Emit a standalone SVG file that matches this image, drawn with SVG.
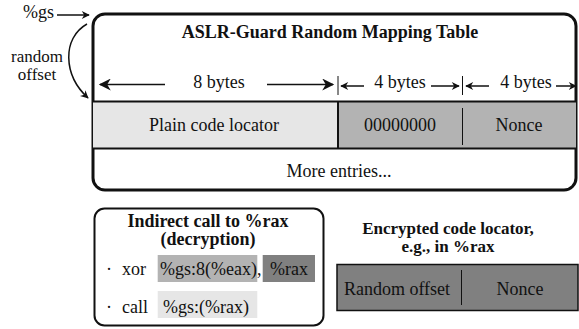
<svg xmlns="http://www.w3.org/2000/svg" width="579" height="329" viewBox="0 0 579 329">
<defs>
<style>
.t{font-family:"Liberation Serif","Times New Roman",serif;font-size:18px;fill:#111}
.b{font-weight:bold}
.s{font-size:17px}
.m{text-anchor:middle}
.ln{stroke:#111;fill:none;stroke-width:1.5}
</style>
<marker id="ah" viewBox="0 0 10 10" refX="9" refY="5" markerWidth="10" markerHeight="8" markerUnits="userSpaceOnUse" orient="auto">
<path d="M0,0 L10,5 L0,10 L3,5 Z" fill="#111"/>
</marker>
<marker id="ahb" viewBox="0 0 10 10" refX="9" refY="5" markerWidth="18" markerHeight="12" markerUnits="userSpaceOnUse" orient="auto">
<path d="M0,0 L10,5 L0,10 L3,5 Z" fill="#111"/>
</marker>
</defs>
<rect width="579" height="329" fill="#fff"/>
<g id="table">
<rect x="93" y="14" width="483" height="176" rx="12" fill="#fff" stroke="#111" stroke-width="3"/>
<rect x="93" y="101.5" width="245" height="47" fill="#e6e6e6"/>
<rect x="338" y="101.5" width="238" height="47" fill="#b3b3b3"/>
<line x1="93" y1="101.5" x2="576" y2="101.5" stroke="#111" stroke-width="2"/>
<line x1="93" y1="148.5" x2="576" y2="148.5" stroke="#111" stroke-width="2"/>
<line x1="338" y1="101.5" x2="338" y2="148.5" stroke="#111" stroke-width="2"/>
<line x1="462.5" y1="108" x2="462.5" y2="145" stroke="#111" stroke-width="1"/>
<text class="t b m" x="330" y="37.5">ASLR-Guard Random Mapping Table</text>
<text class="t m" x="219" y="88">8 bytes</text>
<text class="t m" x="400" y="88">4 bytes</text>
<text class="t m" x="526" y="88">4 bytes</text>
<text class="t m" x="214" y="131">Plain code locator</text>
<text class="t m" x="400" y="131">00000000</text>
<text class="t m" x="519" y="131">Nonce</text>
<text class="t m" x="339" y="177">More entries...</text>
</g>
<g id="connectors">
<line class="ln" x1="165" y1="84.5" x2="100" y2="84.5" marker-end="url(#ahb)"/>
<line class="ln" x1="267" y1="84.5" x2="333" y2="84.5" marker-end="url(#ahb)"/>
<line x1="338" y1="76" x2="338" y2="95" stroke="#111" stroke-width="1"/>
<line x1="462.5" y1="76" x2="462.5" y2="95" stroke="#111" stroke-width="1"/>
<line class="ln" x1="364" y1="86" x2="341" y2="86" marker-end="url(#ah)"/>
<line class="ln" x1="431" y1="86" x2="459" y2="86" marker-end="url(#ah)"/>
<line class="ln" x1="489" y1="86" x2="466" y2="86" marker-end="url(#ah)"/>
<line class="ln" x1="556" y1="86" x2="576" y2="86" marker-end="url(#ah)"/>
<line class="ln" x1="57" y1="15" x2="89" y2="15" marker-end="url(#ah)"/>
<path class="ln" d="M87,24 C62,38 63,75 88,98" marker-end="url(#ah)"/>
</g>
<g id="labels">
<text class="t" x="23" y="18">%gs</text>
<text class="t s m" x="37" y="62">random</text>
<text class="t s m" x="37" y="80">offset</text>
</g>
<g id="decrypt">
<rect x="94.5" y="208.5" width="229" height="117" rx="10" fill="#fff" stroke="#111" stroke-width="2"/>
<text class="t b m" x="208" y="226.5">Indirect call to %rax</text>
<text class="t b m" x="208" y="245">(decryption)</text>
<rect x="157.7" y="255" width="99.6" height="27" fill="#b3b3b3"/>
<rect x="262.7" y="255" width="52.3" height="27" fill="#808080"/>
<rect x="157.7" y="291" width="99.6" height="27" fill="#e6e6e6"/>
<text class="t" x="106" y="275">·</text>
<text class="t" x="122" y="275">xor</text>
<text class="t" x="160" y="275">%gs:8(%eax),</text>
<text class="t" x="270" y="275">%rax</text>
<text class="t" x="106" y="312.5">·</text>
<text class="t" x="122" y="312.5">call</text>
<text class="t" x="163" y="312.5">%gs:(%rax)</text>
</g>
<g id="encrypted">
<text class="t b s m" x="448" y="234">Encrypted code locator,</text>
<text class="t b s m" x="448" y="252">e.g., in %rax</text>
<rect x="337" y="264.5" width="241" height="46" fill="#808080" stroke="#111" stroke-width="1.5"/>
<line x1="461.5" y1="270" x2="461.5" y2="305" stroke="#111" stroke-width="1"/>
<text class="t m" x="397" y="295">Random offset</text>
<text class="t m" x="520" y="295">Nonce</text>
</g>
</svg>
